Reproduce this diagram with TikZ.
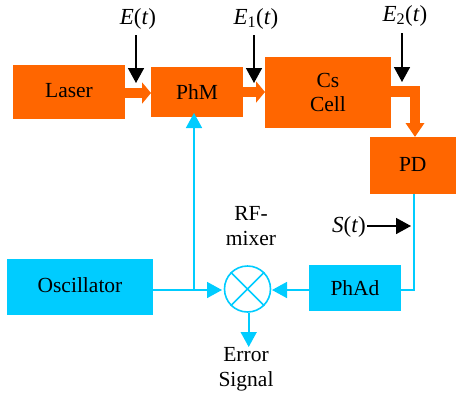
\documentclass[tikz,border=0pt]{standalone}
\usepackage{fontspec}
\setmainfont{Liberation Serif}
\usetikzlibrary{arrows.meta}
\definecolor{org}{HTML}{FF6600}
\definecolor{cya}{HTML}{00CCFF}
\tikzset{
  x=1pt,y=-1pt,
  lbl/.style={inner sep=0pt,outer sep=0pt,anchor=base,font=\fontsize{21.5}{24.5}\selectfont,align=center},
  mlbl/.style={lbl,font=\fontsize{23}{26}\selectfont},
  obox/.style={lbl,anchor=center,fill=org,minimum width=#1},
  cbox/.style={lbl,anchor=center,fill=cya,minimum width=#1},
  fat/.style={org,line width=10.5pt,-{Triangle[length=9pt,width=21pt]}},
  fatlong/.style={org,line width=10.5pt,-{Triangle[length=14pt,width=18pt]}},
  sig/.style={cya,line width=1.6pt},
  sigar/.style={sig,-{Triangle[length=15pt,width=16pt]}},
  blk/.style={black,line width=1.6pt,-{Triangle[length=15pt,width=16pt]}},
}
\begin{document}
\begin{tikzpicture}
\useasboundingbox (0,0) rectangle (456,397);
% boxes
\node[obox=112pt,minimum height=54pt] (laser) at (69,92) {\raisebox{3pt}{Laser}};
\node[obox=92pt,minimum height=50pt] (phm) at (197,92) {PhM};
\node[obox=126pt,minimum height=71pt] (cs) at (328,92.5) {Cs\\Cell};
\node[obox=86.5pt,minimum height=57pt] (pd) at (412.75,165.5) {\raisebox{3pt}{PD}};
\node[cbox=146pt,minimum height=56pt] (osc) at (80,287) {\raisebox{3pt}{Oscillator}};
\node[cbox=92pt,minimum height=46pt] (phad) at (355,288) {PhAd};
\node[circle,draw=cya,line width=1.6pt,minimum size=46pt,inner sep=0pt] (mix) at (247.5,289) {};
\draw[sig] (mix.45) -- (mix.225) (mix.135) -- (mix.315);
% orange arrows
\coordinate (l1) at (laser.east|-0,93);
\coordinate (p1) at (phm.west|-0,93);
\coordinate (p2) at (phm.east|-0,92);
\coordinate (c1) at (cs.west|-0,92);
\coordinate (c2) at (cs.east|-0,91.5);
\coordinate (d1) at (415,137);
\draw[fat] (l1) -- (p1);
\draw[fat] (p2) -- (c1);
\draw[fatlong] (c2) -| (d1);
% signal lines
\coordinate (pdo) at (414,194);
\coordinate (corner) at (414,290);
\coordinate (oe) at (153,290);
\coordinate (jn) at (194,290);
\coordinate (phmin) at (194,113);
\coordinate (mw) at (222,290);
\coordinate (me) at (272,290);
\coordinate (ms) at (248.7,312.5);
\coordinate (mo) at (248.7,347);
\draw[sig] (pdo) -- (corner) -- (phad.east|-corner);
\draw[sigar] (oe) -- (mw);
\draw[sigar] (jn) -- (phmin);
\draw[sigar] (phad.west|-me) -- (me);
\draw[sigar] (ms) -- (mo);
% labels
\node[mlbl] (et) at (138,24) {\textit{E}(\textit{t})};
\node[mlbl] (e1) at (256,24) {\textit{E}\textsubscript{1}(\textit{t})};
\node[mlbl] (e2) at (405,21) {\textit{E}\textsubscript{2}(\textit{t})};
\node[mlbl] (st) at (349,232) {\textit{S}(\textit{t})};
\node[lbl] (rf) at (251,220) {RF-};
\node[lbl] (mx) at (251,245) {mixer};
\node[lbl] (er) at (246,361) {Error};
\node[lbl] (sg) at (246,386) {Signal};
% black arrows
\coordinate (a0) at (136,35); \coordinate (a1) at (136,83);
\coordinate (b0) at (254,35); \coordinate (b1) at (254,83);
\coordinate (c0) at (402,33); \coordinate (c3) at (402,82);
\coordinate (s0) at (367,226); \coordinate (s1) at (411,226);
\draw[blk] (a0) -- (a1);
\draw[blk] (b0) -- (b1);
\draw[blk] (c0) -- (c3);
\draw[blk] (s0) -- (s1);
\end{tikzpicture}
\end{document}
